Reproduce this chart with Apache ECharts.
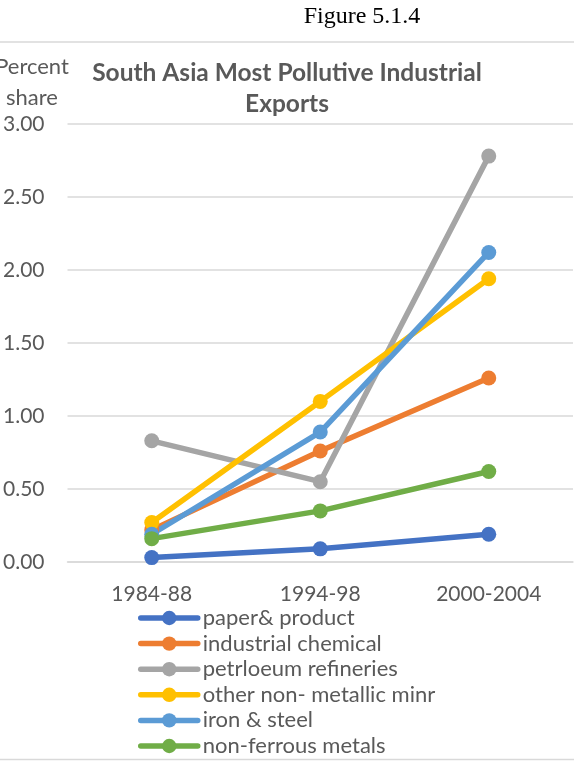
<!DOCTYPE html>
<html>
<head>
<meta charset="utf-8">
<script src="https://cdn.jsdelivr.net/npm/echarts@6/dist/echarts.min.js"></script>
<style>
  html, body { margin: 0; padding: 0; background: #fff; }
  #chart { width: 574px; height: 761px; }
</style>
</head>
<body>
<div id="chart"></div>
<script>
// periods on the x axis
const periods = ['1984-88', '1994-98', '2000-2004']

// percent share values per product group
const paperProduct = [0.03, 0.09, 0.19]
const industrialChemical = [0.22, 0.76, 1.26]
const petroleumRefineries = [0.83, 0.55, 2.78]
const otherNonMetallic = [0.27, 1.10, 1.94]
const ironSteel = [0.19, 0.89, 2.12]
const nonFerrous = [0.16, 0.35, 0.62]

const seriesNames = ['paper& product', 'industrial chemical', 'petrloeum refineries',
    'other non- metallic minr', 'iron & steel', 'non-ferrous metals']
const seriesValues = [paperProduct, industrialChemical, petroleumRefineries,
    otherNonMetallic, ironSteel, nonFerrous]
const colors = ['#4472C4', '#ED7D31', '#A5A5A5', '#FFC000', '#5B9BD5', '#70AD47']

const font = 'Lato, "Open Sans", sans-serif'
const grey = '#595959'

let myChart = echarts.init(document.getElementById('chart'))

let option = {
    animation: false,
    color: colors,
    textStyle: { fontFamily: font },
    title: {
        text: 'South Asia Most Pollutive Industrial\nExports',
        left: 'center',
        top: 53,
        textStyle: {
            fontFamily: font,
            fontSize: 24.5,
            fontWeight: 'bold',
            color: grey,
            lineHeight: 31
        }
    },
    graphic: [
        {   // figure caption above the chart box
            type: 'text',
            style: {
                text: 'Figure 5.1.4',
                x: 362, y: 17,
                align: 'center', verticalAlign: 'middle',
                font: '24px "Liberation Serif", "Times New Roman", serif',
                fill: '#000'
            }
        },
        {   // y axis title, partly cut off by the crop
            type: 'text',
            style: {
                text: 'Percent\nshare',
                x: 32, y: 82,
                align: 'center', verticalAlign: 'middle',
                font: '22px ' + font,
                lineHeight: 31,
                fill: grey
            }
        },
        { type: 'line', shape: { x1: 0, y1: 42, x2: 574, y2: 42 }, style: { stroke: '#D9D9D9', lineWidth: 1.5 } },
        { type: 'line', shape: { x1: 0, y1: 759.5, x2: 574, y2: 759.5 }, style: { stroke: '#D9D9D9', lineWidth: 1.5 } }
    ],
    legend: {
        orient: 'vertical',
        left: 133,
        top: 602,
        height: 170,
        itemWidth: 57,
        itemHeight: 18,
        itemGap: 3.6,
        lineStyle: { width: 5.5, cap: 'round' },
        textStyle: { fontFamily: font, fontSize: 22, color: grey, lineHeight: 22 },
        data: seriesNames
    },
    grid: { left: 63, right: 1, top: 124, bottom: 199 },
    xAxis: {
        type: 'category',
        data: periods,
        boundaryGap: true,
        axisLine: { lineStyle: { color: '#D9D9D9', width: 1.5 } },
        axisTick: { show: false },
        axisLabel: { color: grey, fontSize: 21, margin: 22, fontFamily: font }
    },
    yAxis: {
        type: 'value',
        min: 0,
        max: 3,
        interval: 0.5,
        axisLine: { show: false },
        axisTick: { show: false },
        splitLine: { lineStyle: { color: '#D9D9D9', width: 1.5 } },
        axisLabel: {
            color: grey, fontSize: 21, margin: 23, fontFamily: font,
            formatter: v => v.toFixed(2)
        }
    },
    series: seriesNames.map((name, i) => ({
        name: name,
        type: 'line',
        data: seriesValues[i],
        symbol: 'circle',
        symbolSize: 15,
        lineStyle: { width: 5.5, color: colors[i], cap: 'round' },
        itemStyle: { color: colors[i] }
    }))
}
myChart.setOption(option)
</script>
</body>
</html>
